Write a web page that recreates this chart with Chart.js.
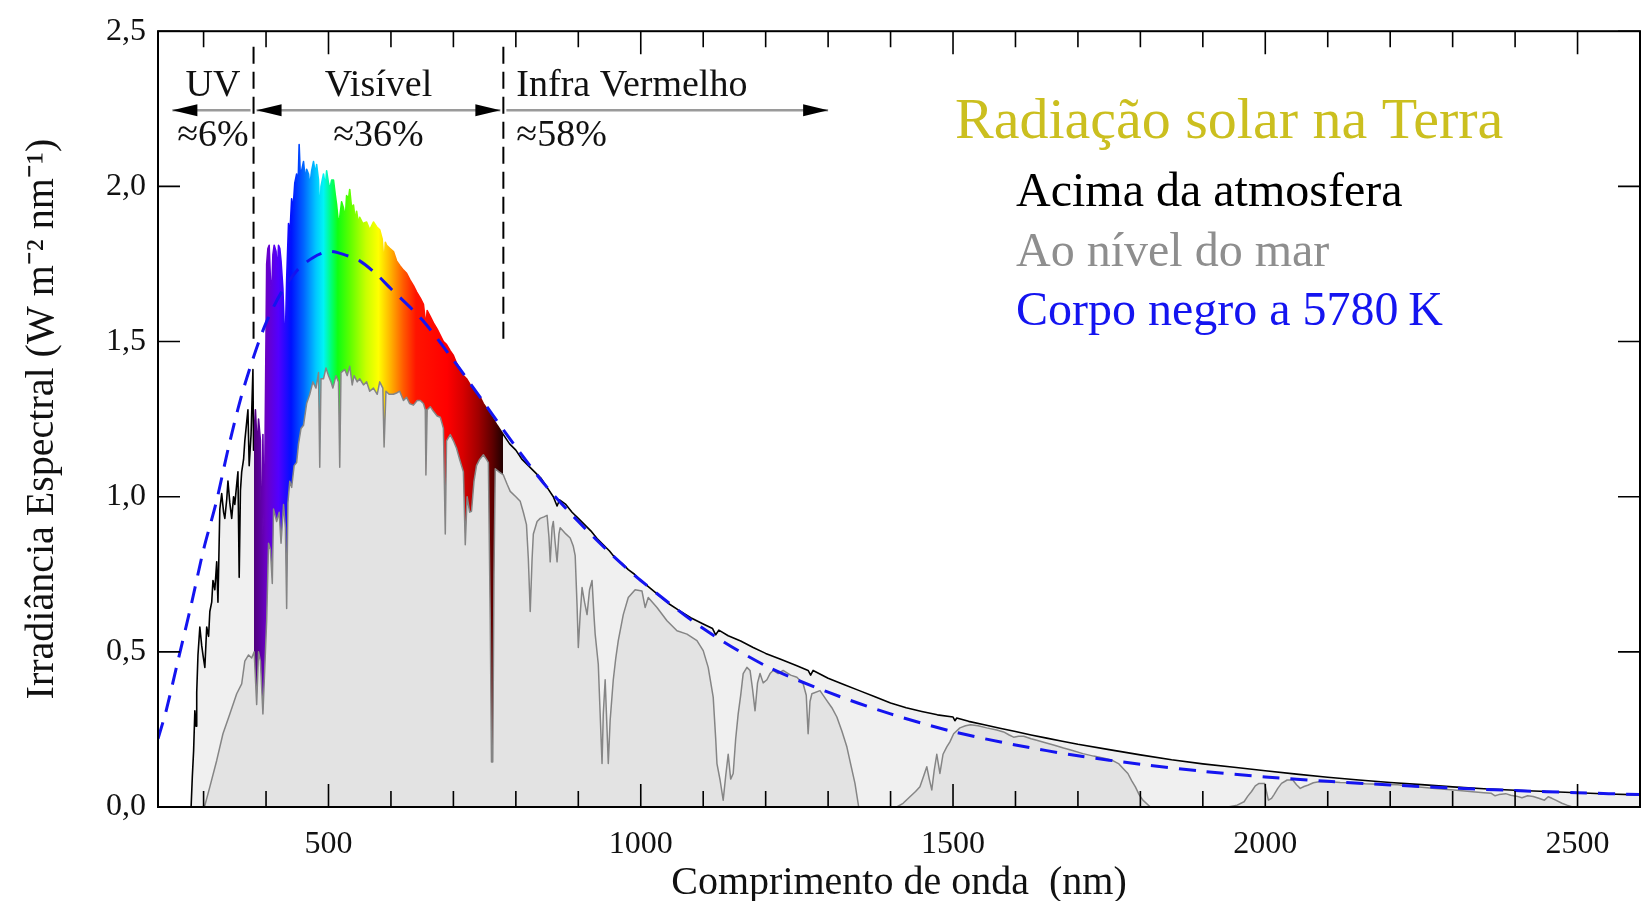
<!DOCTYPE html>
<html lang="pt">
<head>
<meta charset="utf-8">
<title>Radiação solar na Terra</title>
<script src="https://cdn.jsdelivr.net/npm/chart.js@4.4.1/dist/chart.umd.min.js"></script>
<style>
    html, body { margin: 0; padding: 0; background: #ffffff; }
    canvas { display: block; }
</style>
</head>
<body>
<canvas id="espectro" width="1648" height="901"></canvas>
<script>
// Acima da atmosfera: comprimento de onda (nm) / irradiancia (W m-2 nm-1)
const toaWave = [
    280, 282, 284, 286, 288, 289, 291, 294, 297, 299,
    302, 305, 308, 310, 313, 315, 318, 321, 323, 326,
    329, 332, 334, 337, 339, 342, 345, 348, 350, 353,
    355, 357, 359, 361, 364, 366, 369, 371, 373, 376,
    379, 380, 383, 386, 388, 391, 393, 395, 397, 399,
    401, 403, 405, 407, 409, 411, 413, 416, 418, 420,
    422, 424, 427, 429, 431, 433, 436, 438, 441, 443,
    446, 449, 451, 453, 455, 458, 460, 463, 465, 468,
    470, 473, 476, 479, 481, 484, 486, 488, 492, 495,
    497, 500, 502, 505, 508, 511, 513, 516, 518, 521,
    524, 527, 529, 532, 534, 537, 540, 543, 545, 548,
    550, 555, 561, 566, 572, 577, 582, 586, 589, 591,
    593, 598, 604, 609, 614, 620, 625, 630, 636, 641,
    647, 652, 656, 658, 663, 668, 674, 679, 684, 689,
    695, 700, 705, 711, 716, 721, 727, 732, 738, 743,
    748, 753, 759, 764, 770, 775, 780, 790, 800, 810,
    820, 830, 840, 850, 860, 866, 870, 880, 890, 900,
    910, 920, 930, 940, 950, 960, 970, 980, 990, 1000,
    1015, 1030, 1045, 1060, 1080, 1100, 1115, 1120, 1125, 1140,
    1160, 1180, 1200, 1225, 1250, 1268, 1272, 1276, 1300, 1325,
    1350, 1375, 1400, 1425, 1450, 1475, 1500, 1503, 1506, 1525,
    1550, 1575, 1600, 1625, 1650, 1675, 1700, 1750, 1800, 1850,
    1900, 1950, 2000, 2050, 2100, 2150, 2200, 2250, 2300, 2350,
    2400, 2450, 2500, 2550, 2600
];
const toaValue = [
    0, 0.10, 0.18, 0.31, 0.26, 0.37, 0.49, 0.58, 0.52, 0.49,
    0.45, 0.58, 0.55, 0.63, 0.66, 0.73, 0.70, 0.79, 0.66, 0.96,
    1.01, 0.95, 0.93, 0.99, 1.05, 0.98, 0.93, 1.00, 0.975, 1.04,
    1.08, 0.74, 1.02, 1.08, 1.12, 1.18, 1.24, 1.28, 1.10, 1.20,
    1.41, 1.15, 1.28, 1.15, 1.25, 1.18, 0.75, 1.20, 0.85, 1.30,
    1.75, 1.80, 1.81, 1.70, 1.65, 1.78, 1.81, 1.79, 1.72, 1.81,
    1.80, 1.76, 1.67, 1.55, 1.52, 1.70, 1.88, 1.84, 1.96, 1.92,
    2.01, 2.04, 1.98, 2.135, 2.03, 2.06, 2.08, 2.02, 2.055, 2.04,
    2.00, 2.05, 2.08, 2.04, 2.07, 2.02, 1.90, 2.00, 2.04, 2.00,
    2.05, 2.01, 1.99, 2.02, 2.02, 1.97, 1.94, 1.88, 1.90, 1.95,
    1.93, 1.90, 1.97, 1.96, 1.99, 1.93, 1.94, 1.89, 1.92, 1.88,
    1.90, 1.88, 1.885, 1.86, 1.885, 1.87, 1.86, 1.83, 1.75, 1.82,
    1.81, 1.80, 1.79, 1.76, 1.745, 1.73, 1.72, 1.70, 1.68, 1.66,
    1.64, 1.62, 1.55, 1.60, 1.58, 1.56, 1.54, 1.52, 1.50, 1.49,
    1.47, 1.455, 1.43, 1.41, 1.39, 1.38, 1.36, 1.35, 1.33, 1.32,
    1.30, 1.285, 1.265, 1.25, 1.23, 1.215, 1.20, 1.17, 1.15, 1.12,
    1.10, 1.08, 1.06, 1.03, 1.00, 0.97, 0.99, 0.975, 0.95, 0.93,
    0.91, 0.89, 0.865, 0.845, 0.825, 0.80, 0.785, 0.765, 0.75, 0.73,
    0.705, 0.68, 0.655, 0.635, 0.61, 0.59, 0.575, 0.555, 0.57, 0.552,
    0.535, 0.514, 0.495, 0.475, 0.455, 0.44, 0.425, 0.44, 0.415, 0.395,
    0.375, 0.355, 0.335, 0.32, 0.308, 0.297, 0.29, 0.278, 0.287, 0.276,
    0.265, 0.254, 0.243, 0.232, 0.222, 0.212, 0.202, 0.185, 0.168, 0.152,
    0.139, 0.128, 0.117, 0.106, 0.096, 0.087, 0.079, 0.072, 0.065, 0.059,
    0.054, 0.05, 0.046, 0.042, 0.039
];

// Ao nivel do mar
const seaWave = [
    298, 302, 310, 321, 331, 342, 353, 361, 366, 372,
    377, 381, 385, 388, 391, 395, 398, 401, 404, 407,
    410, 412, 417, 421, 424, 428, 431, 433, 435, 438,
    441, 445, 449, 452, 456, 460, 465, 470, 475, 480,
    484, 486, 488, 492, 496, 500, 504, 507, 512, 516,
    518, 520, 526, 530, 534, 538, 541, 546, 550, 556,
    561, 566, 572, 578, 582, 587, 589, 592, 597, 604,
    610, 614, 620, 625, 630, 636, 642, 647, 652, 655,
    656, 658, 663, 668, 674, 679, 684, 687, 689, 695,
    700, 705, 710, 716, 719, 722, 726, 729, 733, 737,
    742, 748, 753, 756, 759, 761, 763, 765, 767, 773,
    780, 786, 791, 800, 807, 812, 817, 820, 823, 826,
    828, 834, 839, 845, 850, 853, 855, 858, 860, 863,
    866, 869, 871, 880, 887, 892, 895, 898, 900, 903,
    906, 910, 914, 918, 922, 925, 927, 932, 935, 938,
    940, 943, 946, 948, 951, 956, 960, 964, 972, 980,
    991, 1002, 1007, 1012, 1026, 1042, 1058, 1074, 1090, 1100,
    1108, 1116, 1120, 1122, 1127, 1132, 1136, 1140, 1144, 1148,
    1152, 1156, 1160, 1164, 1170, 1175, 1179, 1183, 1187, 1191,
    1196, 1202, 1207, 1212, 1220, 1228, 1240, 1250, 1260, 1265,
    1268, 1271, 1274, 1287, 1298, 1306, 1314, 1322, 1330, 1337,
    1343, 1349, 1410, 1420, 1431, 1440, 1447, 1453, 1458, 1462,
    1466, 1470, 1474, 1479, 1484, 1490, 1495, 1501, 1511, 1520,
    1528, 1540, 1554, 1570, 1581, 1590, 1597, 1605, 1613, 1625,
    1634, 1648, 1661, 1677, 1690, 1708, 1725, 1744, 1755, 1765,
    1772, 1780, 1786, 1792, 1798, 1804, 1816, 1940, 1955, 1966,
    1972, 1978, 1984, 1990, 1999, 2005, 2010, 2014, 2020, 2026,
    2035, 2044, 2050, 2056, 2062, 2068, 2077, 2086, 2104, 2120,
    2140, 2160, 2182, 2212, 2242, 2272, 2302, 2332, 2350, 2362,
    2368, 2374, 2385, 2393, 2402, 2411, 2420, 2429, 2438, 2447,
    2453, 2459, 2465, 2475, 2483, 2492
];
const seaValue = [
    0, 0.005, 0.065, 0.15, 0.236, 0.30, 0.365, 0.397, 0.47, 0.49,
    0.48, 0.50, 0.33, 0.50, 0.47, 0.30, 0.45, 0.60, 0.85, 0.83,
    0.72, 0.96, 0.92, 0.95, 0.85, 0.975, 0.90, 0.64, 0.98, 1.05,
    1.03, 1.10, 1.11, 1.17, 1.22, 1.23, 1.30, 1.33, 1.37, 1.35,
    1.40, 1.095, 1.38, 1.38, 1.415, 1.39, 1.37, 1.35, 1.39, 1.37,
    1.095, 1.40, 1.41, 1.39, 1.42, 1.36, 1.39, 1.37, 1.38, 1.36,
    1.37, 1.34, 1.35, 1.33, 1.37, 1.35, 1.16, 1.34, 1.33, 1.33,
    1.335, 1.34, 1.31, 1.32, 1.30, 1.295, 1.31, 1.31, 1.30, 1.28,
    1.07, 1.28, 1.29, 1.275, 1.26, 1.256, 1.22, 0.88, 1.18, 1.20,
    1.18, 1.156, 1.12, 1.08, 0.845, 1.00, 0.95, 0.953, 1.05, 1.10,
    1.12, 1.135, 1.12, 1.11, 0.60, 0.145, 0.145, 0.75, 1.09, 1.08,
    1.07, 1.04, 1.017, 1.00, 0.985, 0.95, 0.91, 0.80, 0.63, 0.80,
    0.88, 0.92, 0.93, 0.935, 0.94, 0.87, 0.79, 0.90, 0.92, 0.85,
    0.79, 0.88, 0.90, 0.88, 0.867, 0.84, 0.81, 0.65, 0.514, 0.62,
    0.707, 0.66, 0.62, 0.70, 0.73, 0.62, 0.557, 0.46, 0.30, 0.14,
    0.30, 0.41, 0.25, 0.14, 0.28, 0.41, 0.48, 0.536, 0.62, 0.675,
    0.70, 0.696, 0.643, 0.675, 0.643, 0.60, 0.568, 0.557, 0.536, 0.504,
    0.45, 0.354, 0.22, 0.14, 0.087, 0.022, 0.10, 0.17, 0.09, 0.108,
    0.22, 0.30, 0.36, 0.43, 0.45, 0.44, 0.38, 0.31, 0.40, 0.43,
    0.40, 0.41, 0.43, 0.44, 0.43, 0.44, 0.425, 0.418, 0.397, 0.36,
    0.236, 0.34, 0.365, 0.375, 0.343, 0.32, 0.29, 0.245, 0.194, 0.13,
    0.076, 0, 0, 0.012, 0.033, 0.05, 0.065, 0.10, 0.13, 0.09,
    0.055, 0.12, 0.17, 0.108, 0.17, 0.194, 0.21, 0.236, 0.255, 0.262,
    0.265, 0.262, 0.255, 0.248, 0.242, 0.232, 0.225, 0.228, 0.228, 0.22,
    0.215, 0.207, 0.2, 0.19, 0.183, 0.172, 0.164, 0.156, 0.15, 0.14,
    0.125, 0.108, 0.085, 0.065, 0.04, 0.022, 0, 0, 0.006, 0.017,
    0.035, 0.05, 0.068, 0.076, 0.076, 0.022, 0.028, 0.04, 0.06, 0.076,
    0.087, 0.087, 0.072, 0.06, 0.066, 0.07, 0.078, 0.081, 0.081, 0.079,
    0.078, 0.075, 0.073, 0.072, 0.065, 0.06, 0.055, 0.049, 0.046, 0.044,
    0.036, 0.04, 0.043, 0.038, 0.035, 0.03, 0.036, 0.034, 0.028, 0.022,
    0.033, 0.028, 0.022, 0.012, 0.006, 0
];

// Corpo negro a 5780 K
const bbWave = [
    227, 240, 260, 280, 300, 320, 340, 360, 380, 400,
    425, 450, 475, 500, 525, 550, 575, 600, 650, 700,
    750, 800, 850, 900, 950, 1000, 1100, 1200, 1300, 1400,
    1500, 1600, 1700, 1800, 1900, 2000, 2100, 2200, 2300, 2400,
    2500, 2600
];
const bbValue = [
    0.22, 0.31, 0.48, 0.65, 0.83, 0.98, 1.16, 1.32, 1.45, 1.56,
    1.66, 1.73, 1.77, 1.79, 1.78, 1.76, 1.72, 1.67, 1.57, 1.44,
    1.30, 1.16, 1.03, 0.92, 0.82, 0.73, 0.575, 0.455, 0.37, 0.30,
    0.243, 0.20, 0.165, 0.138, 0.115, 0.097, 0.083, 0.071, 0.061, 0.053,
    0.046, 0.040
];

const xLabelTicks = [500, 1000, 1500, 2000, 2500];
const yLabelTicks = [0, 0.5, 1, 1.5, 2, 2.5];

const bandNames = ["UV", "Visível", "Infra Vermelho"];
const bandShares = ["≈6%", "≈36%", "≈58%"];
const bandLimits = [[250, 380], [380, 780], [780, 1300]];

const legendTitle = "Radiação solar na Terra";
const legendNames = ["Acima da atmosfera", "Ao nível do mar", "Corpo negro a 5780\u2009K"];

// estilos
const SERIF = '"Liberation Serif", "Times New Roman", serif';
const legendColors = ["#000000", "#8e8e8e", "#1414f0"];
const rainbowStops = [
    [380, "#4e0078"], [400, "#6a00c4"], [420, "#5200ff"], [440, "#0010ff"],
    [460, "#0064ff"], [480, "#00c8ff"], [492, "#00f4f4"], [505, "#00ff70"],
    [515, "#10ff10"], [535, "#60ff00"], [560, "#c8ff00"], [580, "#ffff00"],
    [600, "#ffb000"], [620, "#ff5a00"], [640, "#ff1400"], [690, "#ff0000"],
    [715, "#d80000"], [740, "#a00000"], [762, "#600000"], [780, "#1e0000"]
];
const arrowLevel = 2.245;
const dashTop = 2.45;
const dashBottom = 1.5;
const arrowHeads = [[true, false], [true, true], [false, true]];

function toPoints(wave, value) {
    return wave.map(function (w, i) {
        return { x: w, y: value[i] };
    });
}

// degradê do espectro visível (fora dele usa a cor "outside")
function spectrumGradient(chart, outside) {
    var area = chart.chartArea;
    if (!area) {
        return outside;
    }
    var xs = chart.scales.x;
    var g = chart.ctx.createLinearGradient(area.left, 0, area.right, 0);
    var pos = function (w) {
        var p = (xs.getPixelForValue(w) - area.left) / (area.right - area.left);
        return Math.min(1, Math.max(0, p));
    };
    var first = rainbowStops[0][0];
    var last = rainbowStops[rainbowStops.length - 1][0];
    g.addColorStop(0, outside);
    g.addColorStop(pos(first), outside);
    rainbowStops.forEach(function (s) {
        g.addColorStop(pos(s[0]), s[1]);
    });
    g.addColorStop(pos(last), outside);
    g.addColorStop(1, outside);
    return g;
}

// moldura e marcas para dentro
var framePlugin = {
    id: "moldura",
    afterDatasetsDraw: function (chart) {
        var ctx = chart.ctx;
        var a = chart.chartArea;
        var x = chart.scales.x;
        var y = chart.scales.y;
        ctx.save();
        ctx.strokeStyle = "#000";
        ctx.lineWidth = 1.6;
        ctx.beginPath();
        for (var w = 300; w < x.max; w += 100) {
            var px = x.getPixelForValue(w);
            var len = w % 500 === 0 ? 23 : 16;
            ctx.moveTo(px, a.bottom);
            ctx.lineTo(px, a.bottom - len);
            ctx.moveTo(px, a.top);
            ctx.lineTo(px, a.top + len);
        }
        yLabelTicks.forEach(function (v) {
            var py = y.getPixelForValue(v);
            ctx.moveTo(a.left, py);
            ctx.lineTo(a.left + 22, py);
            ctx.moveTo(a.right, py);
            ctx.lineTo(a.right - 22, py);
        });
        ctx.stroke();
        ctx.lineWidth = 2;
        ctx.strokeRect(a.left, a.top, a.right - a.left, a.bottom - a.top);
        ctx.restore();
    }
};

// faixas UV / visivel / IV
var bandPlugin = {
    id: "faixas",
    afterDatasetsDraw: function (chart) {
        var ctx = chart.ctx;
        var x = chart.scales.x;
        var y = chart.scales.y;
        var ya = y.getPixelForValue(arrowLevel);
        ctx.save();

        ctx.strokeStyle = "#000";
        ctx.lineWidth = 2;
        ctx.setLineDash([17, 8]);
        [bandLimits[1][0], bandLimits[1][1]].forEach(function (w) {
            var px = x.getPixelForValue(w);
            ctx.beginPath();
            ctx.moveTo(px, y.getPixelForValue(dashTop));
            ctx.lineTo(px, y.getPixelForValue(dashBottom));
            ctx.stroke();
        });
        ctx.setLineDash([]);

        bandLimits.forEach(function (lim, i) {
            var a = x.getPixelForValue(lim[0]) + 3;
            var b = x.getPixelForValue(lim[1]) - 3;
            if (i === 0) {
                a -= 3;
            }
            if (i === 2) {
                b += 3;
            }
            ctx.strokeStyle = "#9a9a9a";
            ctx.lineWidth = 2.5;
            ctx.beginPath();
            ctx.moveTo(a, ya);
            ctx.lineTo(b, ya);
            ctx.stroke();
            ctx.fillStyle = "#000";
            if (arrowHeads[i][0]) {
                ctx.beginPath();
                ctx.moveTo(a, ya);
                ctx.lineTo(a + 25, ya - 6);
                ctx.lineTo(a + 25, ya + 6);
                ctx.closePath();
                ctx.fill();
            }
            if (arrowHeads[i][1]) {
                ctx.beginPath();
                ctx.moveTo(b, ya);
                ctx.lineTo(b - 25, ya - 6);
                ctx.lineTo(b - 25, ya + 6);
                ctx.closePath();
                ctx.fill();
            }
            ctx.font = "38px " + SERIF;
            ctx.fillStyle = "#111";
            ctx.textBaseline = "alphabetic";
            var tx;
            if (i === 2) {
                ctx.textAlign = "left";
                tx = x.getPixelForValue(lim[0]) + 13;
            } else {
                ctx.textAlign = "center";
                tx = (x.getPixelForValue(lim[0]) + x.getPixelForValue(lim[1])) / 2;
            }
            ctx.fillText(bandNames[i], tx, ya - 14);
            ctx.fillText(bandShares[i], tx, ya + 36);
        });
        ctx.restore();
    }
};

// legenda em texto
var legendPlugin = {
    id: "legendaTexto",
    afterDraw: function (chart) {
        var ctx = chart.ctx;
        ctx.save();
        ctx.textAlign = "left";
        ctx.textBaseline = "alphabetic";
        ctx.font = "58px " + SERIF;
        ctx.fillStyle = "#cbbf1f";
        ctx.fillText(legendTitle, 955, 138);
        ctx.font = "48px " + SERIF;
        legendNames.forEach(function (t, i) {
            ctx.fillStyle = legendColors[i];
            ctx.fillText(t, 1016, 206 + i * 59.5);
        });
        ctx.restore();
    }
};

var ctx = document.getElementById("espectro").getContext("2d");
var grafico = new Chart(ctx, {
    type: "line",
    data: {
        datasets: [
            {
                label: legendNames[2],
                data: toPoints(bbWave, bbValue),
                borderColor: "#1414f0",
                borderWidth: 3,
                borderDash: [17, 11],
                pointRadius: 0,
                fill: false,
                tension: 0.3,
            },
            {
                label: legendNames[1],
                data: toPoints(seaWave, seaValue),
                borderColor: "#858585",
                borderWidth: 1.5,
                backgroundColor: "#e3e3e3",
                fill: "origin",
                pointRadius: 0,
            },
            {
                label: legendNames[0],
                data: toPoints(toaWave, toaValue),
                borderColor: function (c) {
                    return spectrumGradient(c.chart, "#000000");
                },
                backgroundColor: function (c) {
                    return spectrumGradient(c.chart, "#f0f0f0");
                },
                borderWidth: 1.6,
                fill: "origin",
                pointRadius: 0,
            },
        ],
    },
    options: {
        responsive: false,
        animation: false,
        events: [],
        elements: {
            line: { borderJoinStyle: "round" },
        },
        layout: {
            padding: { top: 28, right: 8, left: 0, bottom: 0 },
        },
        plugins: {
            legend: { display: false },
            tooltip: { enabled: false },
        },
        scales: {
            x: {
                type: "linear",
                min: 227,
                max: 2600,
                afterBuildTicks: function (scale) {
                    scale.ticks = xLabelTicks.map(function (v) {
                        return { value: v };
                    });
                },
                afterFit: function (scale) {
                    scale.height = 94;
                },
                grid: { display: false, drawTicks: false },
                border: { display: false },
                ticks: {
                    autoSkip: false,
                    maxRotation: 0,
                    padding: 18,
                    color: "#111",
                    font: { family: SERIF, size: 32 },
                    callback: function (v) {
                        return String(v);
                    },
                },
                title: {
                    display: true,
                    text: "Comprimento de onda  (nm)",
                    color: "#111",
                    font: { family: SERIF, size: 40 },
                    padding: { top: 0, bottom: -6 },
                },
            },
            y: {
                min: 0,
                max: 2.5,
                afterBuildTicks: function (scale) {
                    scale.ticks = yLabelTicks.map(function (v) {
                        return { value: v };
                    });
                },
                afterFit: function (scale) {
                    scale.width = 158;
                },
                grid: { display: false, drawTicks: false },
                border: { display: false },
                ticks: {
                    padding: 12,
                    color: "#111",
                    font: { family: SERIF, size: 32 },
                    callback: function (v) {
                        return v.toFixed(1).replace(".", ",");
                    },
                },
                title: {
                    display: true,
                    text: "Irradiância Espectral (W m⁻² nm⁻¹)",
                    color: "#111",
                    font: { family: SERIF, size: 40 },
                    padding: { top: 18, bottom: 0 },
                },
            },
        },
    },
    plugins: [framePlugin, bandPlugin, legendPlugin],
});
</script>
</body>
</html>
